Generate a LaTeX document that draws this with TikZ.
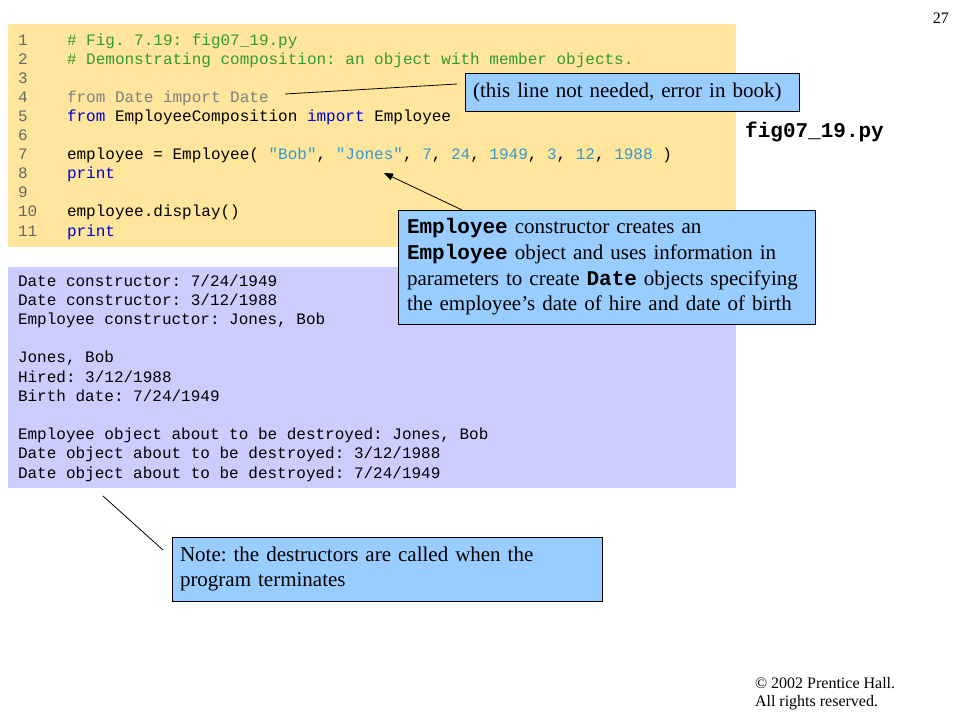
\documentclass[tikz,border=0pt]{standalone}
\usepackage{fontspec}
\setmainfont{Liberation Serif}
\setmonofont{Liberation Mono}
\usetikzlibrary{arrows.meta,calc}
\frenchspacing
\definecolor{codebg}{HTML}{FFE69C}
\definecolor{outbg}{HTML}{CCCCFF}
\definecolor{callbg}{HTML}{99CCFF}
\definecolor{cmtc}{HTML}{339933}
\definecolor{kwc}{HTML}{0000CC}
\definecolor{litc}{HTML}{3399CC}
\definecolor{dimc}{HTML}{808080}
\definecolor{lnumc}{HTML}{666666}
\newcommand{\kwd}[1]{\textcolor{kwc}{#1}}
\newcommand{\litv}[1]{\textcolor{litc}{#1}}
\begin{document}
\begin{tikzpicture}[x=1pt,y=-1pt,
  panel/.style={draw=none, inner sep=0pt, outer sep=0pt, anchor=north west},
  monoline/.style={inner sep=0pt, outer sep=0pt, anchor=base west, font=\fontsize{16}{19}\selectfont\ttfamily},
  numline/.style={monoline, text=lnumc},
  callout/.style={draw=black, line width=0.8pt, fill=callbg, inner ysep=0pt, outer sep=0pt,
    align=left, anchor=north west, font=\fontsize{21}{25.7}\selectfont\frenchspacing},
  leader/.style={draw=black, line width=0.8pt},
  serifsmall/.style={inner sep=0pt, outer sep=0pt, anchor=base west, font=\fontsize{16}{18}\selectfont}
]
\useasboundingbox (0,0) rectangle (960,720);
\fill[white] (0,0) rectangle (960,720);

% panels
\node[panel, fill=codebg, minimum width=728pt, minimum height=223pt] (codebox) at (8,24) {};
\node[panel, fill=outbg, minimum width=728pt, minimum height=221pt] (outbox) at (8,267) {};

% line numbers
\node[numline] (n1) at (18,45) {1};
\node[numline] (n2) at (18,64.1) {2};
\node[numline] (n3) at (18,83.2) {3};
\node[numline] (n4) at (18,102.3) {4};
\node[numline] (n5) at (18,121.4) {5};
\node[numline] (n6) at (18,140.5) {6};
\node[numline] (n7) at (18,159.6) {7};
\node[numline] (n8) at (18,178.7) {8};
\node[numline] (n9) at (18,197.8) {9};
\node[numline] (n10) at (18,216.9) {10};
\node[numline] (n11) at (18,236) {11};

% code
\node[monoline, text=cmtc] (code1) at (67,45) {\# Fig. 7.19: fig07\_19.py};
\node[monoline, text=cmtc] (code2) at (67,64.1) {\# Demonstrating composition: an object with member objects.};
\node[monoline, text=dimc] (code4) at (67,102.3) {from Date import Date};
\node[monoline] (code5) at (67,121.4) {\kwd{from} EmployeeComposition \kwd{import} Employee};
\node[monoline] (code7) at (67,159.6) {employee = Employee( \litv{"Bob"}, \litv{"Jones"}, \litv{7}, \litv{24}, \litv{1949}, \litv{3}, \litv{12}, \litv{1988} )};
\node[monoline] (code8) at (67,178.7) {\kwd{print}};
\node[monoline] (code10) at (67,216.9) {employee.display()};
\node[monoline] (code11) at (67,236) {\kwd{print}};

% output
\node[monoline] (o1) at (18,286) {Date constructor: 7/24/1949};
\node[monoline] (o2) at (18,305.2) {Date constructor: 3/12/1988};
\node[monoline] (o3) at (18,324.4) {Employee constructor: Jones, Bob};
\node[monoline] (o5) at (18,362.8) {Jones, Bob};
\node[monoline] (o6) at (18,382) {Hired: 3/12/1988};
\node[monoline] (o7) at (18,401.2) {Birth date: 7/24/1949};
\node[monoline] (o9) at (18,439.6) {Employee object about to be destroyed: Jones, Bob};
\node[monoline] (o10) at (18,458.8) {Date object about to be destroyed: 3/12/1988};
\node[monoline] (o11) at (18,478) {Date object about to be destroyed: 7/24/1949};

% file name
\node[inner sep=0pt, anchor=base west, font=\fontsize{21}{25}\selectfont\ttfamily\bfseries] (fname) at (745,137) {fig07\_19.py};

% callouts
\node[callout, inner xsep=8pt, text width=318pt, minimum height=38pt] (box1) at (465,73)
  {(this line not needed, error in book)};
\node[callout, inner xsep=9pt, text width=399pt, minimum height=114pt] (box2) at (398,210)
  {\textbf{\ttfamily Employee} constructor creates an\\
   \textbf{\ttfamily Employee} object and uses information in\\
   parameters to create \textbf{\ttfamily Date} objects specifying\\
   the employee’s date of hire and date of birth};
\node[callout, inner xsep=8pt, text width=414pt, minimum height=64pt] (box3) at (172,537)
  {Note: the destructors are called when the\\ program terminates};

% connectors
\coordinate (l4end) at (285,94);
\draw[leader] (l4end) -- ([shift={(-8pt,8pt)}]box1.west);
\coordinate (jones) at (384,173);
\draw[leader, -{Triangle[length=9pt,width=7pt]}] ([xshift=64pt]box2.north west) -- (jones);
\coordinate (outpt) at (103,496);
\draw[leader] (outpt) -- ([shift={(-9pt,19pt)}]box3.west);

% page number and copyright
\node[inner sep=0pt, anchor=base east, font=\fontsize{16}{18}\selectfont] (pagenum) at (949,23) {27};
\node[serifsmall] (copy1) at (755,688) {© 2002 Prentice Hall.};
\node[serifsmall] (copy2) at (755,706) {All rights reserved.};
\end{tikzpicture}
\end{document}
